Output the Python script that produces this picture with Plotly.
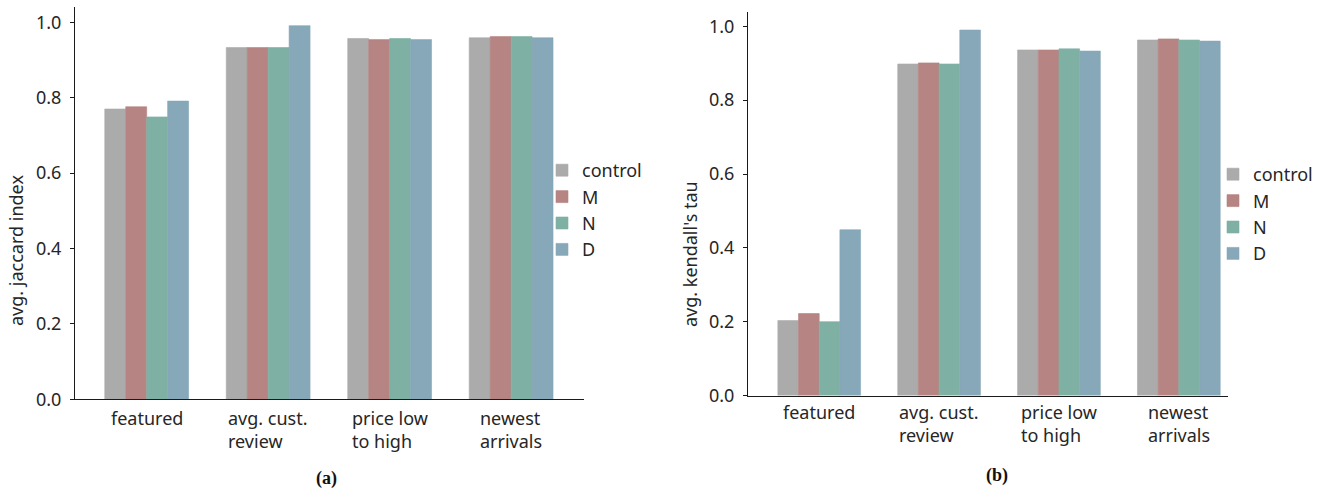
import plotly.graph_objects as go

W, H = 1326, 494

CATEGORIES = ["featured", "avg. cust.<br>review", "price low<br>to high", "newest<br>arrivals"]
SERIES = ["control", "M", "N", "D"]
COLORS = {"control": "#ababab", "M": "#b58483", "N": "#7fb0a4", "D": "#86a8b8"}

JACCARD = {
    "control": [0.770, 0.933, 0.957, 0.959],
    "M": [0.776, 0.933, 0.954, 0.962],
    "N": [0.749, 0.933, 0.957, 0.962],
    "D": [0.791, 0.991, 0.954, 0.959],
}
KENDALL = {
    "control": [0.203, 0.898, 0.936, 0.963],
    "M": [0.222, 0.901, 0.936, 0.966],
    "N": [0.200, 0.898, 0.939, 0.963],
    "D": [0.449, 0.990, 0.933, 0.960],
}

FONT = "Noto Sans, Open Sans, sans-serif"
INK = "#262626"
AXIS = "#1a1a1a"
FS = 18


def px_x(p):
    return p / W


def px_y(p):
    return (H - p) / H


fig = go.Figure()
x_idx = list(range(len(CATEGORIES)))

# thin same-colour outline closes the antialiasing seams between adjacent bars
for name in SERIES:
    fig.add_trace(go.Bar(x=x_idx, y=JACCARD[name], name=name,
                         marker=dict(color=COLORS[name],
                                     line=dict(color=COLORS[name], width=0.6)),
                         xaxis="x", yaxis="y", legend="legend"))
for name in SERIES:
    fig.add_trace(go.Bar(x=x_idx, y=KENDALL[name], name=name,
                         marker=dict(color=COLORS[name],
                                     line=dict(color=COLORS[name], width=0.6)),
                         xaxis="x2", yaxis="y2", legend="legend2"))

axis_common = dict(showgrid=False, zeroline=False, showline=True,
                   linecolor=AXIS, linewidth=1.2, automargin=False)
ytick = dict(tickvals=[0, 0.2, 0.4, 0.6, 0.8, 1.0], tickformat=".1f",
             ticks="outside", ticklen=4, tickcolor=AXIS,
             ticklabelstandoff=5, tickfont=dict(size=FS, color=INK))
fig.update_layout(
    width=W, height=H,
    paper_bgcolor="white", plot_bgcolor="white",
    margin=dict(l=0, r=0, t=0, b=0, autoexpand=False),
    font=dict(family=FONT, color=INK, size=FS),
    barmode="group", bargap=0.31, bargroupgap=0,
    xaxis=dict(domain=[px_x(75), px_x(584)], range=[-0.59, 3.6],
               anchor="y", showticklabels=False, ticks="", **axis_common),
    yaxis=dict(domain=[px_y(399.3), px_y(7.2)], range=[0, 1.04],
               anchor="x", **ytick, **axis_common),
    xaxis2=dict(domain=[px_x(748), px_x(1228)], range=[-0.594, 3.41],
                anchor="y2", showticklabels=False, ticks="", **axis_common),
    yaxis2=dict(domain=[px_y(395.5), px_y(12.3)], range=[0, 1.038],
                anchor="x2", **ytick, **axis_common),
    legend=dict(x=px_x(542), xanchor="left", y=px_y(152), yanchor="top",
                bgcolor="rgba(0,0,0,0)", font=dict(size=FS, color=INK),
                tracegroupgap=0),
    legend2=dict(x=px_x(1213), xanchor="left", y=px_y(156), yanchor="top",
                 bgcolor="rgba(0,0,0,0)", font=dict(size=FS, color=INK),
                 tracegroupgap=0),
)

# category labels: centred block, lines left-aligned
for xa, ya_px in [("x", 404), ("x2", 398)]:
    for i, label in enumerate(CATEGORIES):
        fig.add_annotation(x=i, xref=xa, y=px_y(ya_px), yref="paper",
                           yanchor="top", text=label, showarrow=False,
                           align="left", font=dict(size=FS, color=INK))

# y-axis titles
for title, tx, ty in [("avg. jaccard index", 16, 251), ("avg. kendall's tau", 690, 254)]:
    fig.add_annotation(x=px_x(tx), y=px_y(ty), xref="paper", yref="paper",
                       xanchor="center", yanchor="middle",
                       text=title, textangle=-90, showarrow=False,
                       font=dict(size=FS, color=INK))

# panel captions
for cap, cx, cy in [("(a)", 326, 478), ("(b)", 997, 475)]:
    fig.add_annotation(x=px_x(cx), y=px_y(cy), xref="paper", yref="paper",
                       xanchor="center", yanchor="middle",
                       text=f"<b>{cap}</b>", showarrow=False,
                       font=dict(family="Liberation Serif, DejaVu Serif, serif",
                                 size=18, color="#111111"))

# the page body has a default 8px margin; drop it so the figure fills the window
fig.write_html("out.html", config={"displayModeBar": False},
               post_script="document.body.style.margin='0';"
                           "document.body.style.overflow='hidden';")
